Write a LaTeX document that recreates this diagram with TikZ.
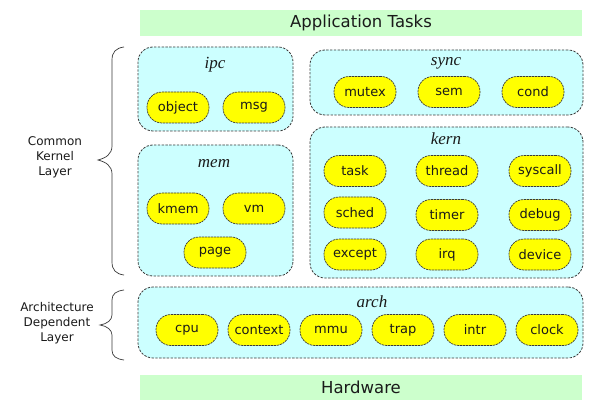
\documentclass[tikz,border=0pt]{standalone}
\usepackage{fontspec}
\setmainfont{DejaVu Sans}
\newfontfamily\titlefont{Liberation Serif}
\definecolor{groupfill}{HTML}{CCFFFF}
\definecolor{pillfill}{HTML}{FFFF00}
\definecolor{barfill}{HTML}{CCFFCC}
\definecolor{edgegray}{HTML}{3A3A3A}
\definecolor{txt}{HTML}{1A1A1A}
\tikzset{
  groupbox/.style={draw=edgegray, fill=groupfill, line width=0.8pt, dash pattern=on 2.4pt off 1.4pt, rounded corners=15pt, inner sep=0pt},
  pill/.style={draw=edgegray, fill=pillfill, line width=0.7pt, dash pattern=on 2.2pt off 0.8pt, rounded corners=15pt, minimum width=62pt, minimum height=31pt, inner sep=0pt, text=txt, font=\fontsize{13}{15}\selectfont},
  grouptitle/.style={inner sep=0pt, text=txt, font=\titlefont\itshape\fontsize{17}{19}\selectfont},
  bar/.style={fill=barfill, draw=none, minimum width=442pt, minimum height=26pt, inner sep=0pt, text=txt, font=\fontsize{16.5}{18}\selectfont},
  sidelabel/.style={align=center, inner sep=0pt, text=txt, font=\fontsize{12}{15}\selectfont},
  bracepath/.style={draw=edgegray, line width=0.7pt}
}
\begin{document}
\begin{tikzpicture}[x=1pt,y=-1pt]
\useasboundingbox[fill=white] (0,0) rectangle (602,414);

% bars
\node[bar] (apps) at (361,23) {Application Tasks};
\node[bar, minimum height=25pt] (hw) at (361,387.5) {Hardware};

% groups
\node[groupbox, minimum width=155pt, minimum height=84pt] (ipc) at (215.5,89) {};
\node[groupbox, minimum width=273pt, minimum height=65pt] (sync) at (446.5,82.5) {};
\node[groupbox, minimum width=155pt, minimum height=131pt] (mem) at (215.5,210.5) {};
\node[groupbox, minimum width=273pt, minimum height=151pt] (kern) at (446.5,202.5) {};
\node[groupbox, minimum width=445pt, minimum height=71pt] (arch) at (360.5,322.5) {};

% titles
\node[grouptitle] (ipcT) at (215,65) {ipc};
\node[grouptitle] (syncT) at (446,63) {sync};
\node[grouptitle] (memT) at (214,164) {mem};
\node[grouptitle] (kernT) at (446,139) {kern};
\node[grouptitle] (archT) at (372,302) {arch};

% ipc
\node[pill] (object) at (178,107.5) {object};
\node[pill] (msg) at (254,107.5) {msg};
% sync
\node[pill] (mutex) at (365,92) {mutex};
\node[pill] (sem) at (449,92) {sem};
\node[pill] (cond) at (533,92) {cond};
% mem
\node[pill] (kmem) at (178,208.5) {kmem};
\node[pill] (vm) at (254,208.5) {vm};
\node[pill] (page) at (215,252.5) {page};
% kern
\node[pill] (task) at (355,171) {task};
\node[pill] (thread) at (447,171) {thread};
\node[pill] (syscall) at (540,171) {syscall};
\node[pill] (sched) at (355,212.5) {sched};
\node[pill] (timer) at (447,215) {timer};
\node[pill] (debug) at (540,215) {debug};
\node[pill] (except) at (355,254.5) {except};
\node[pill] (irq) at (447,254.5) {irq};
\node[pill] (device) at (540,254.5) {device};
% arch
\node[pill] (cpu) at (187,330) {cpu};
\node[pill] (context) at (259,330) {context};
\node[pill] (mmu) at (331,330) {mmu};
\node[pill] (trap) at (403,330) {trap};
\node[pill] (intr) at (475,330) {intr};
\node[pill] (clock) at (547,330) {clock};

% side labels
\node[sidelabel] (ckl) at (55,157) {Common\\Kernel\\Layer};
\node[sidelabel] (adl) at (57,323) {Architecture\\Dependent\\Layer};

% braces
\coordinate (b1top) at (124,47);
\coordinate (b1tip) at (98,160);
\coordinate (b1bot) at (124,275);
\draw[bracepath] (b1top) .. controls (116,48) and (112,52) .. (112,60) -- (112,146)
  .. controls (112,154) and (106,158) .. (b1tip)
  .. controls (106,162) and (112,166) .. (112,174) -- (112,262)
  .. controls (112,270) and (116,274) .. (b1bot);
\coordinate (b2top) at (124,290);
\coordinate (b2tip) at (100,325);
\coordinate (b2bot) at (124,360);
\draw[bracepath] (b2top) .. controls (116,291) and (112,294) .. (112,300) -- (112,315)
  .. controls (112,320) and (107,324) .. (b2tip)
  .. controls (107,326) and (112,330) .. (112,335) -- (112,350)
  .. controls (112,356) and (116,359) .. (b2bot);
\end{tikzpicture}
\end{document}
